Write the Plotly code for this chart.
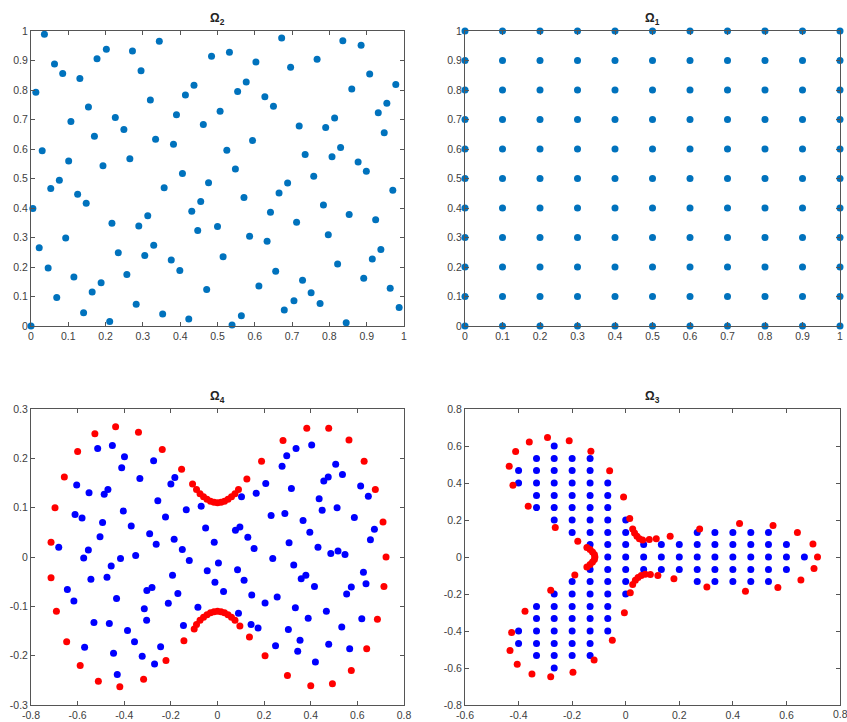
import plotly.graph_objects as go

# ---------------- Omega_2 : scattered points in unit square ----------------
o2_x = [0.036,0.013,0.063,0.085,0.131,0.177,0.202,0.272,0.295,0.344,0.154,0.107,0.226,0.249,0.170,0.030,0.101,0.193,0.265,0.320,0.334,0.382,0.390,0.414,0.437,0.462,0.484,0.507,0.406,0.476,0.357,0.053,0.076,
        0.0,0.005,0.022,0.046,0.069,0.093,0.125,0.148,0.115,0.141,0.164,0.188,0.211,0.217,0.234,0.257,0.282,0.289,0.305,0.313,0.329,0.353,0.376,0.399,0.423,0.431,0.447,0.455,0.471,0.500,
        0.532,0.554,0.577,0.603,0.672,0.696,0.627,0.650,0.594,0.525,0.548,0.688,0.719,0.735,0.758,0.767,0.790,0.807,0.814,0.830,0.836,0.860,0.877,0.885,0.899,0.908,0.931,0.954,0.947,0.978,0.970,
        0.515,0.539,0.564,0.586,0.571,0.611,0.633,0.642,0.656,0.665,0.679,0.705,0.712,0.728,0.751,0.775,0.784,0.797,0.822,0.845,0.853,0.892,0.915,0.924,0.938,0.963,0.987]
o2_y = [0.989,0.792,0.888,0.856,0.839,0.906,0.938,0.932,0.865,0.965,0.742,0.693,0.707,0.666,0.643,0.594,0.559,0.543,0.567,0.766,0.633,0.616,0.716,0.783,0.816,0.683,0.914,0.728,0.517,0.486,0.469,0.466,0.494,
        0.0,0.398,0.265,0.197,0.097,0.298,0.447,0.416,0.166,0.045,0.115,0.147,0.015,0.348,0.248,0.175,0.074,0.339,0.239,0.374,0.274,0.041,0.224,0.188,0.024,0.389,0.324,0.422,0.124,0.337,
        0.928,0.795,0.827,0.895,0.976,0.877,0.777,0.745,0.629,0.596,0.532,0.485,0.678,0.581,0.508,0.904,0.673,0.574,0.705,0.605,0.967,0.803,0.556,0.952,0.525,0.854,0.723,0.755,0.655,0.819,0.460,
        0.235,0.003,0.035,0.304,0.436,0.136,0.287,0.386,0.186,0.451,0.054,0.086,0.352,0.155,0.113,0.076,0.410,0.309,0.210,0.011,0.378,0.162,0.227,0.360,0.259,0.128,0.063]

# ---------------- Omega_1 : regular grid ----------------
o1_vals = [0.0,0.1,0.2,0.3,0.4,0.5,0.6,0.7,0.8,0.9,1.0]
o1_x = [a for b in o1_vals for a in o1_vals]
o1_y = [b for b in o1_vals for a in o1_vals]

# ---------------- Omega_4 : boundary (red) and interior (blue) ----------------
o4_red_x = [-0.714,-0.697,-0.657,-0.600,-0.526,-0.437,-0.339,-0.237,-0.154,-0.107,
            -0.090,-0.075,-0.060,-0.045,-0.030,-0.015,0.0,0.015,0.030,0.045,0.060,0.075,0.090,
            0.126,0.189,0.281,0.383,0.477,0.564,0.629,0.677,0.710,0.723,
            0.714,0.686,0.640,0.574,0.493,0.400,0.300,0.204,0.137,0.096,
            0.075,0.060,0.045,0.030,0.015,0.0,-0.015,-0.030,-0.045,-0.060,-0.075,-0.090,
            -0.100,-0.144,-0.221,-0.317,-0.419,-0.511,-0.589,-0.647,-0.691,-0.714]
o4_red_y = [0.030,0.100,0.162,0.214,0.250,0.264,0.253,0.218,0.178,0.148,
            0.137,0.128,0.122,0.117,0.113,0.111,0.110,0.111,0.113,0.117,0.122,0.128,0.137,
            0.158,0.194,0.236,0.261,0.261,0.237,0.194,0.137,0.071,0.000,
            -0.060,-0.126,-0.186,-0.230,-0.257,-0.261,-0.240,-0.200,-0.162,-0.140,
            -0.128,-0.122,-0.117,-0.113,-0.111,-0.110,-0.111,-0.113,-0.117,-0.122,-0.128,-0.137,
            -0.146,-0.170,-0.210,-0.248,-0.263,-0.252,-0.220,-0.172,-0.110,-0.042]
o4_blue_x = [-0.681,-0.604,-0.551,-0.514,-0.451,-0.486,-0.470,-0.399,-0.411,-0.333,-0.611,-0.581,-0.493,-0.404,-0.504,-0.554,-0.574,-0.370,-0.291,-0.263,-0.274,-0.256,-0.223,-0.200,-0.183,-0.134,-0.186,-0.151,-0.121,-0.070,-0.051,-0.014,-0.416,-0.351,0.004,
             -0.456,-0.474,-0.543,-0.644,-0.616,-0.433,-0.303,-0.281,-0.314,-0.304,-0.193,-0.170,-0.211,-0.044,-0.011,-0.084,-0.146,-0.530,-0.464,-0.386,-0.356,-0.570,-0.446,-0.323,-0.244,-0.270,-0.430,
             0.103,0.166,0.207,0.077,0.096,0.130,0.157,0.230,0.289,0.237,0.277,0.297,0.337,0.404,0.317,0.307,0.367,0.396,0.436,0.449,0.456,0.475,0.507,0.536,0.513,0.431,0.486,0.517,0.547,0.587,0.614,0.647,0.673,0.656,
             0.026,0.086,0.114,0.327,0.359,0.379,0.416,0.147,0.256,0.204,0.334,0.090,0.144,0.174,0.389,0.304,0.354,0.249,0.344,0.420,0.477,0.467,0.533,0.567,0.619,0.554,0.574,0.626,0.637]
o4_blue_y = [0.020,0.146,0.130,0.220,0.226,0.127,0.137,0.203,0.181,0.159,0.086,0.079,0.070,0.093,0.041,0.014,-0.002,0.063,0.047,0.026,0.195,0.114,0.081,0.148,0.161,0.096,0.036,0.015,-0.007,0.103,0.059,0.030,-0.003,0.003,-0.012,
             -0.018,-0.041,-0.045,-0.066,-0.089,-0.084,-0.068,-0.062,-0.105,-0.128,-0.037,-0.074,-0.094,-0.028,-0.051,-0.102,-0.139,-0.133,-0.135,-0.149,-0.172,-0.183,-0.195,-0.201,-0.182,-0.217,-0.238,
             0.122,0.129,0.149,0.054,0.061,0.040,0.017,0.084,0.088,-0.003,0.184,0.205,0.220,0.227,0.139,0.029,0.074,0.050,0.118,0.095,0.154,0.162,0.188,0.167,0.100,0.020,0.007,0.012,0.005,0.080,0.144,0.123,0.056,0.035,
             -0.070,-0.026,-0.047,-0.016,-0.044,-0.037,-0.060,-0.077,-0.081,-0.093,-0.103,-0.114,-0.137,-0.144,-0.124,-0.147,-0.169,-0.180,-0.191,-0.213,-0.177,-0.110,-0.142,-0.186,-0.125,-0.075,-0.061,-0.031,-0.054]

# ---------------- Omega_3 : boundary (red) and interior grid rows (blue) ----------------
o3_row_y = [0.6,0.533,0.467,0.4,0.333,0.267,0.2,0.133,0.067,0.0,-0.067,-0.133,-0.2,-0.267,-0.333,-0.4,-0.467,-0.533,-0.6]
o3_row_x = [
    [-0.267],
    [-0.333,-0.267,-0.2,-0.133],
    [-0.4,-0.333,-0.267,-0.2,-0.133],
    [-0.4,-0.333,-0.267,-0.2,-0.133,-0.067],
    [-0.333,-0.267,-0.2,-0.133,-0.067],
    [-0.333,-0.267,-0.2,-0.133,-0.067],
    [-0.267,-0.2,-0.133,-0.067,0.0],
    [-0.2,-0.133,-0.067,0.0,0.267,0.333,0.4,0.467,0.533],
    [-0.133,-0.067,0.0,0.067,0.133,0.2,0.267,0.333,0.4,0.467,0.533,0.6],
    [-0.067,0.0,0.067,0.133,0.2,0.267,0.333,0.4,0.467,0.533,0.6,0.667],
    [-0.133,-0.067,0.0,0.067,0.133,0.2,0.267,0.333,0.4,0.467,0.533,0.6],
    [-0.2,-0.133,-0.067,0.0,0.267,0.333,0.4,0.467,0.533],
    [-0.267,-0.2,-0.133,-0.067,0.0],
    [-0.333,-0.267,-0.2,-0.133,-0.067],
    [-0.333,-0.267,-0.2,-0.133,-0.067],
    [-0.4,-0.333,-0.267,-0.2,-0.133,-0.067],
    [-0.4,-0.333,-0.267,-0.2,-0.133],
    [-0.333,-0.267,-0.2,-0.133],
    [-0.267],
]
o3_blue_x = [x for row in o3_row_x for x in row]
o3_blue_y = [y for y, row in zip(o3_row_y, o3_row_x) for _ in row]

o3_red_x = [-0.060,-0.130,-0.211,-0.292,-0.360,-0.411,-0.435,-0.421,-0.364,-0.263,-0.179,
            -0.145,-0.133,-0.124,-0.117,-0.115,-0.117,-0.124,-0.133,-0.145,
            -0.190,-0.280,-0.376,-0.426,-0.432,-0.405,-0.350,-0.280,-0.197,-0.118,-0.050,-0.005,
            0.017,0.026,0.036,0.046,0.058,0.073,0.092,0.120,0.180,0.303,0.447,0.568,0.654,0.703,0.716,
            0.699,0.641,0.550,0.425,0.276,0.166,0.114,0.088,0.063,0.051,0.042,0.033,0.026,0.015,-0.008]
o3_red_y = [0.466,0.571,0.628,0.646,0.622,0.570,0.490,0.388,0.274,0.159,0.085,
            0.052,0.040,0.027,0.013,0.000,-0.013,-0.027,-0.040,-0.054,
            -0.097,-0.180,-0.293,-0.408,-0.505,-0.580,-0.633,-0.647,-0.623,-0.557,-0.450,-0.302,
            -0.193,-0.148,-0.126,-0.111,-0.100,-0.093,-0.095,-0.100,-0.118,-0.162,-0.185,-0.165,-0.124,-0.062,0.000,
            0.070,0.132,0.170,0.181,0.152,0.112,0.098,0.094,0.092,0.098,0.112,0.130,0.152,0.208,0.324]

# ---------------- tick labels ----------------
unit_ticks = [0,0.1,0.2,0.3,0.4,0.5,0.6,0.7,0.8,0.9,1]
unit_labels = ["0","0.1","0.2","0.3","0.4","0.5","0.6","0.7","0.8","0.9","1"]
o4_xticks = [-0.8,-0.6,-0.4,-0.2,0,0.2,0.4,0.6,0.8]
o4_xlabels = ["-0.8","-0.6","-0.4","-0.2","0","0.2","0.4","0.6","0.8"]
o4_yticks = [-0.3,-0.2,-0.1,0,0.1,0.2,0.3]
o4_ylabels = ["-0.3","-0.2","-0.1","0","0.1","0.2","0.3"]
o3_xticks = [-0.6,-0.4,-0.2,0,0.2,0.4,0.6,0.8]
o3_xlabels = ["-0.6","-0.4","-0.2","0","0.2","0.4","0.6","0.8"]
o3_yticks = [-0.8,-0.6,-0.4,-0.2,0,0.2,0.4,0.6,0.8]
o3_ylabels = ["-0.8","-0.6","-0.4","-0.2","0","0.2","0.4","0.6","0.8"]

MATLAB_BLUE = "#0072BD"
MS = 7
FONT = "Liberation Sans, Arial, sans-serif"

W, H = 847, 722
def px_x(a, b):
    return [a / W, b / W]
def px_y(top, bottom):
    return [(H - bottom) / H, (H - top) / H]

fig = go.Figure()
def add(x, y, color, ax):
    fig.add_trace(go.Scatter(x=x, y=y, mode="markers", cliponaxis=False,
                             marker=dict(size=MS, color=color, line=dict(width=0)),
                             xaxis="x" + ax, yaxis="y" + ax, showlegend=False, hoverinfo="skip"))

add(o2_x, o2_y, MATLAB_BLUE, "")
add(o1_x, o1_y, MATLAB_BLUE, "2")
add(o4_blue_x, o4_blue_y, "#0000FF", "3")
add(o4_red_x, o4_red_y, "#FF0000", "3")
add(o3_blue_x, o3_blue_y, "#0000FF", "4")
add(o3_red_x, o3_red_y, "#FF0000", "4")

axis_common = dict(showline=True, linecolor="#555555", linewidth=1, mirror="ticks",
                   ticks="inside", ticklen=4, tickcolor="#555555", showgrid=False,
                   zeroline=False, automargin=False,
                   tickfont=dict(family=FONT, size=10.5, color="#404040"))

L = px_x(31, 404)
R = px_x(465, 840)
T = px_y(31, 326)
B = px_y(409, 705)

# the last x label of the bottom-right panel sits on the page edge; draw it as an annotation
o3_xlabels_axis = o3_xlabels[:-1] + [""]

fig.update_layout(
    width=W, height=H, margin=dict(l=0, r=0, t=0, b=0),
    paper_bgcolor="white", plot_bgcolor="white",
    xaxis=dict(domain=L, anchor="y", range=[0, 1], tickvals=unit_ticks, ticktext=unit_labels, **axis_common),
    yaxis=dict(domain=T, anchor="x", range=[0, 1], tickvals=unit_ticks, ticktext=unit_labels, **axis_common),
    xaxis2=dict(domain=R, anchor="y2", range=[0, 1], tickvals=unit_ticks, ticktext=unit_labels, **axis_common),
    yaxis2=dict(domain=T, anchor="x2", range=[0, 1], tickvals=unit_ticks, ticktext=unit_labels, **axis_common),
    xaxis3=dict(domain=L, anchor="y3", range=[-0.8, 0.8], tickvals=o4_xticks, ticktext=o4_xlabels, **axis_common),
    yaxis3=dict(domain=B, anchor="x3", range=[-0.3, 0.3], tickvals=o4_yticks, ticktext=o4_ylabels, **axis_common),
    xaxis4=dict(domain=R, anchor="y4", range=[-0.6, 0.8], tickvals=o3_xticks, ticktext=o3_xlabels_axis, **axis_common),
    yaxis4=dict(domain=B, anchor="x4", range=[-0.8, 0.8], tickvals=o3_yticks, ticktext=o3_ylabels, **axis_common),
)

fig.add_annotation(text=o3_xlabels[-1], xref="x4", yref="paper", x=o3_xticks[-1], y=B[0],
                   xanchor="center", yanchor="top", yshift=-1, showarrow=False,
                   font=dict(family=FONT, size=10.5, color="#404040"))

titles = [("Ω<sub>2</sub>", L, T), ("Ω<sub>1</sub>", R, T), ("Ω<sub>4</sub>", L, B), ("Ω<sub>3</sub>", R, B)]
for text, xd, yd in titles:
    fig.add_annotation(text="<b>" + text + "</b>", xref="paper", yref="paper",
                       x=(xd[0] + xd[1]) / 2, y=yd[1], xanchor="center", yanchor="bottom",
                       yshift=2, showarrow=False,
                       font=dict(family=FONT, size=12, color="#222222"))

fig.write_html("out.html", config={"displayModeBar": False},
               post_script="document.body.style.margin='0';document.body.style.overflow='hidden';")
